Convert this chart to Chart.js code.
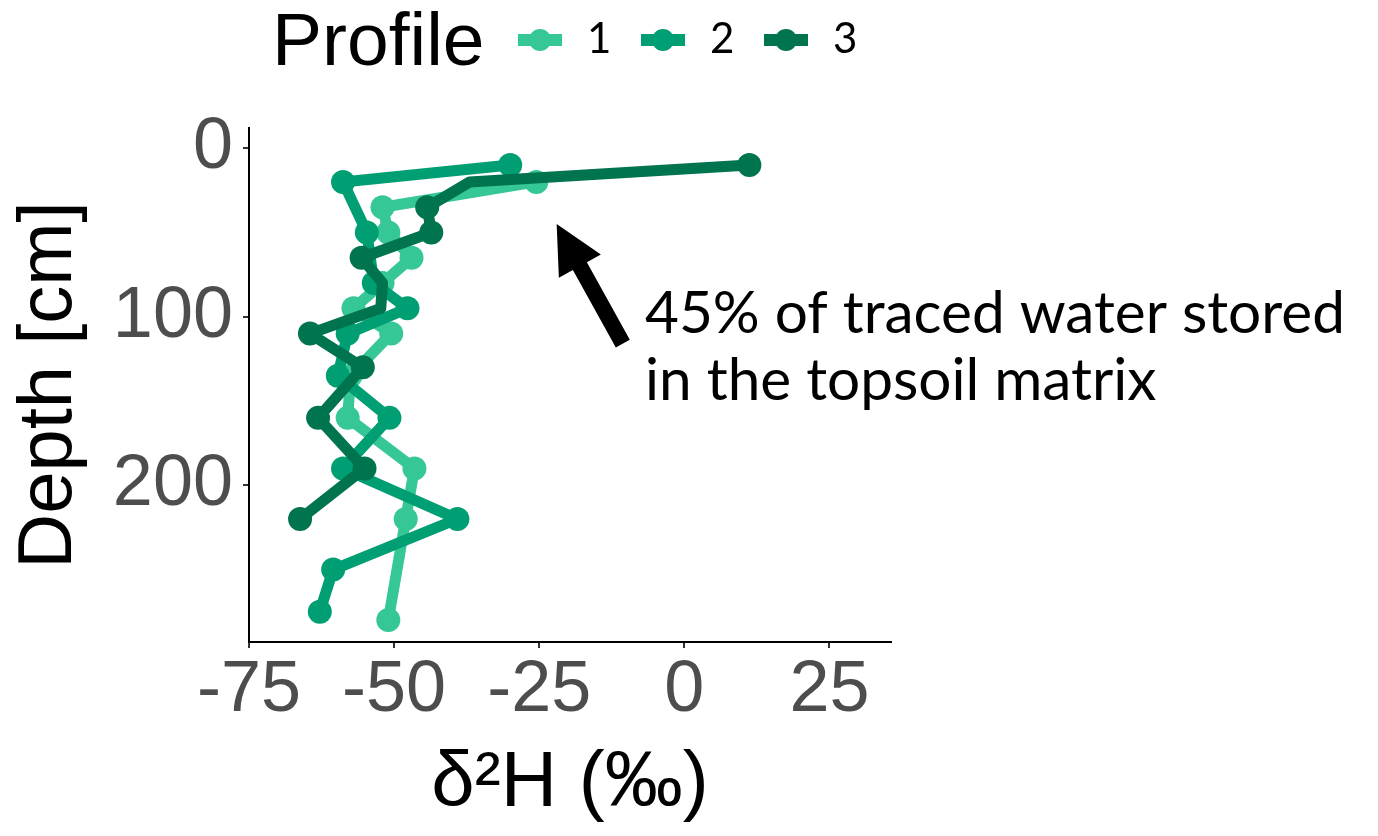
<!DOCTYPE html>
<html>
<head>
<meta charset="utf-8">
<script src="https://cdn.jsdelivr.net/npm/chart.js@4.4.1/dist/chart.umd.min.js"></script>
<style>
  html, body { margin: 0; padding: 0; background: #ffffff; }
  canvas { display: block; }
</style>
</head>
<body>
<canvas id="chart" width="1378" height="836"></canvas>
<script>
// sample depth [cm] and d2H [permil], one pair of arrays per profile
const depth1 = [20, 35, 50, 65, 80, 95, 110, 135, 160, 190, 220, 280];
const h1     = [-25.5, -52, -51, -47, -52, -57, -50.5, -57.5, -58, -46.5, -48, -51];

const depth2 = [10, 20, 50, 80, 95, 110, 135, 160, 190, 220, 250, 275];
const h2     = [-30, -58.8, -54.7, -53.5, -47.7, -58, -59.7, -50.8, -58.8, -39.1, -60.5, -62.8];

const depth3 = [10, 20, 35, 50, 65, 80, 95, 110, 130, 160, 190, 220];
const h3     = [11.2, -37, -44.3, -43.6, -55.6, -52, -52.3, -64.5, -55.4, -63.1, -55.1, -66.2];

const profileLabels = ['1', '2', '3'];
const xTicks = [-75, -50, -25, 0, 25];
const yTicks = [0, 100, 200];

const noteLines = ['45% of traced water stored', 'in the topsoil matrix'];
const arrowTip = [-22, 45];    // [d2H, depth]
const arrowTail = [-10.6, 116];

const colors = ['#35C795', '#009E73', '#00734F'];
const tickFont = '"Liberation Sans", Arial, sans-serif';

function toPoints(h, d) {
    return h.map((v, i) => ({ x: v, y: d[i] }));
}

function lineSet(label, pts, color, order, radius) {
    return {
        label: label,
        data: pts,
        showLine: true,
        borderColor: color,
        backgroundColor: color,
        pointBackgroundColor: color,
        pointBorderWidth: 0,
        pointRadius: radius,
        pointHoverRadius: radius,
        borderWidth: 11,
        borderJoinStyle: 'round',
        borderCapStyle: 'round',
        order: order,
        clip: false
    };
}

// legend drawn by hand: title + line/point keys
const legendPlugin = {
    id: 'profileLegend',
    afterDraw(chart) {
        const ctx = chart.ctx;
        ctx.save();
        ctx.fillStyle = '#000';
        ctx.textBaseline = 'alphabetic';
        ctx.font = '75px ' + tickFont;
        ctx.fillText('Profile', 272, 65);
        const keyX = [518, 641, 764];
        chart.data.datasets.forEach((ds, i) => {
            const x0 = keyX[i], yk = 40;
            ctx.strokeStyle = ds.borderColor;
            ctx.lineWidth = 12;
            ctx.beginPath();
            ctx.moveTo(x0, yk);
            ctx.lineTo(x0 + 44, yk);
            ctx.stroke();
            ctx.fillStyle = ds.borderColor;
            ctx.beginPath();
            ctx.arc(x0 + 22, yk, 11, 0, Math.PI * 2);
            ctx.fill();
            ctx.fillStyle = '#000';
            ctx.font = '42px Lato, sans-serif';
            ctx.fillText(ds.label, x0 + 69, 53);
        });
        ctx.restore();
    }
};

// arrow + note
const notePlugin = {
    id: 'note',
    afterDraw(chart) {
        const ctx = chart.ctx;
        const x = chart.scales.x, y = chart.scales.y;
        const tx = x.getPixelForValue(arrowTip[0]), ty = y.getPixelForValue(arrowTip[1]);
        const sx = x.getPixelForValue(arrowTail[0]), sy = y.getPixelForValue(arrowTail[1]);
        const ang = Math.atan2(ty - sy, tx - sx);
        const len = Math.hypot(tx - sx, ty - sy);
        const headLen = 48, headW = 24, shaftW = 8;

        ctx.save();
        ctx.fillStyle = '#000';
        ctx.translate(tx, ty);
        ctx.rotate(ang);
        ctx.beginPath();
        ctx.moveTo(0, 0);
        ctx.lineTo(-headLen, headW);
        ctx.lineTo(-headLen, shaftW);
        ctx.lineTo(-len, shaftW);
        ctx.lineTo(-len, -shaftW);
        ctx.lineTo(-headLen, -shaftW);
        ctx.lineTo(-headLen, -headW);
        ctx.closePath();
        ctx.fill();
        ctx.restore();

        ctx.save();
        ctx.fillStyle = '#000';
        ctx.textBaseline = 'alphabetic';
        ctx.font = '100px Lato, sans-serif';
        const w = ctx.measureText(noteLines[0]).width;
        const size = 100 * 700 / w;
        ctx.font = size.toFixed(1) + 'px Lato, sans-serif';
        ctx.fillText(noteLines[0], 645, 333);
        ctx.fillText(noteLines[1], 645, 400);
        ctx.restore();
    }
};

const ctx = document.getElementById('chart').getContext('2d');

new Chart(ctx, {
    type: 'scatter',
    data: {
        datasets: [
            lineSet(profileLabels[0], toPoints(h1, depth1), colors[0], 3, 12),
            lineSet(profileLabels[1], toPoints(h2, depth2), colors[1], 2, 12),
            lineSet(profileLabels[2], toPoints(h3, depth3), colors[2], 1,
                [12, 0, 12, 12, 12, 0, 0, 12, 12, 12, 12, 12])
        ]
    },
    options: {
        responsive: false,
        animation: false,
        devicePixelRatio: 1,
        layout: { padding: { top: 128, right: 487, left: 0, bottom: 0 } },
        plugins: {
            legend: { display: false },
            tooltip: { enabled: false }
        },
        scales: {
            x: {
                type: 'linear',
                min: -75,
                max: 35.6,
                afterBuildTicks: (s) => { s.ticks = xTicks.map(v => ({ value: v })); },
                afterFit: (s) => { s.height = 194; },
                border: { display: true, color: '#000', width: 2 },
                grid: { drawOnChartArea: false, drawTicks: true, tickLength: 6, color: '#333', lineWidth: 2 },
                ticks: {
                    color: '#4D4D4D',
                    padding: 0,
                    maxRotation: 0,
                    font: { family: tickFont, size: 72 }
                },
                title: {
                    display: true,
                    text: 'δ²H (‰)',
                    color: '#000',
                    padding: { top: 0, bottom: 5 },
                    font: { family: tickFont, size: 78 }
                }
            },
            y: {
                type: 'linear',
                reverse: true,
                min: -12,
                max: 293,
                afterBuildTicks: (s) => { s.ticks = yTicks.map(v => ({ value: v })); },
                afterFit: (s) => { s.width = 249; },
                border: { display: true, color: '#000', width: 2 },
                grid: { drawOnChartArea: false, drawTicks: true, tickLength: 6, color: '#333', lineWidth: 2 },
                ticks: {
                    color: '#4D4D4D',
                    padding: 10,
                    font: { family: tickFont, size: 72 }
                },
                title: {
                    display: true,
                    text: 'Depth [cm]',
                    color: '#000',
                    padding: { top: 4, bottom: 0 },
                    font: { family: tickFont, size: 76 }
                }
            }
        }
    },
    plugins: [legendPlugin, notePlugin]
});
</script>
</body>
</html>
